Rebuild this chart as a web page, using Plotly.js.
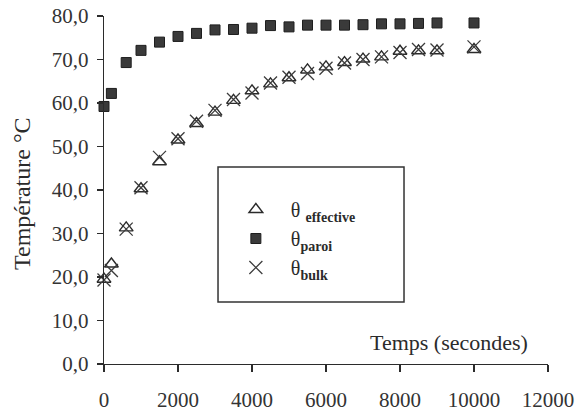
<!DOCTYPE html>
<html>
<head>
<meta charset="utf-8">
<script src="https://cdn.plot.ly/plotly-3.0.1.min.js"></script>
<style>
html,body{margin:0;padding:0;background:#fff;}
#chart{width:579px;height:416px;}
</style>
</head>
<body>
<div id="chart"></div>
<script>
// Data (time in seconds, temperature in °C)
const time = [0, 200, 600, 1000, 1500, 2000, 2500, 3000, 3500, 4000, 4500, 5000, 5500, 6000, 6500, 7000, 7500, 8000, 8500, 9000, 10000];
const thetaEffective = [19.5, 23.0, 31.3, 40.3, 46.5, 51.5, 55.3, 57.9, 60.6, 62.8, 64.4, 65.8, 67.6, 68.3, 69.3, 70.1, 70.6, 71.9, 72.0, 72.0, 72.3];
const thetaParoi = [59.2, 62.2, 69.3, 72.1, 74.0, 75.3, 76.0, 76.8, 76.9, 77.2, 77.8, 77.5, 77.9, 77.9, 77.9, 78.0, 78.2, 78.2, 78.3, 78.4, 78.4];
const thetaBulk = [19.3, 21.5, 31.0, 40.5, 47.5, 51.8, 55.8, 58.3, 60.8, 62.3, 64.6, 65.9, 66.8, 68.0, 69.2, 70.0, 70.6, 71.6, 72.3, 72.2, 72.9];
const seriesNames = ["&nbsp;&nbsp;&nbsp;θ <sub><b>effective</b></sub>", "&nbsp;&nbsp;&nbsp;θ<sub><b>paroi</b></sub>", "&nbsp;&nbsp;&nbsp;θ<sub><b>bulk</b></sub>"];
const xTicks = [0, 2000, 4000, 6000, 8000, 10000, 12000];
const yTicks = [0, 10, 20, 30, 40, 50, 60, 70, 80];

const serif = "Liberation Serif, Times New Roman, serif";
const ink = "#2b2b2b";

const traces = [
  {
    x: time, y: thetaEffective, name: seriesNames[0], type: "scatter", mode: "markers",
    legendgroup: "a", cliponaxis: false,
    marker: {symbol: "triangle-up-open", size: 12, color: ink, line: {width: 1.4, color: ink}}
  },
  {
    x: time, y: thetaParoi, name: seriesNames[1], type: "scatter", mode: "markers",
    legendgroup: "b", cliponaxis: false,
    marker: {symbol: "square", size: 10, color: "#3a3a3a", line: {width: 1, color: "#1e1e1e"}}
  },
  {
    x: time, y: thetaBulk, name: seriesNames[2], type: "scatter", mode: "markers",
    legendgroup: "c", cliponaxis: false,
    marker: {symbol: "x-thin-open", size: 13, color: "#3c3c3c", line: {width: 1.3, color: "#3c3c3c"}}
  }
];

const layout = {
  width: 579, height: 416,
  margin: {l: 104, r: 31, t: 16, b: 52},
  paper_bgcolor: "#ffffff", plot_bgcolor: "#ffffff",
  separators: ", ",
  font: {family: serif, size: 20, color: ink},
  showlegend: true,
  legend: {
    x: 0.297, y: 0.50, xanchor: "left", yanchor: "top",
    bgcolor: "rgba(0,0,0,0)", borderwidth: 0,
    traceorder: "grouped", tracegroupgap: 0,
    font: {family: serif, size: 20, color: ink},
    itemwidth: 30
  },
  xaxis: {
    range: [0, 12000], tickvals: xTicks, tickformat: "d",
    showgrid: false, zeroline: false, showline: true, linecolor: ink, linewidth: 1.3,
    ticks: "outside", ticklen: 7, tickwidth: 1.3, tickcolor: ink,
    ticklabelstandoff: 9,
    tickfont: {family: serif, size: 21, color: "#333"}
  },
  yaxis: {
    range: [0, 80], tickvals: yTicks, tickformat: ".1f",
    showgrid: false, zeroline: false, showline: true, linecolor: ink, linewidth: 1.3,
    ticks: "outside", ticklen: 6, tickwidth: 1.3, tickcolor: ink,
    ticklabelstandoff: 4,
    tickfont: {family: serif, size: 21, color: "#333"}
  },
  shapes: [
    {type: "rect", xref: "paper", yref: "paper", x0: 0.2568, x1: 0.6757, y0: 0.178, y1: 0.566,
     line: {color: "#333", width: 1.5}, fillcolor: "rgba(0,0,0,0)"}
  ],
  annotations: [
    {text: "Temps (secondes)", xref: "paper", yref: "paper", x: 0.777, y: 0.063,
     xanchor: "center", yanchor: "middle", showarrow: false,
     font: {family: serif, size: 22, color: ink}},
    {text: "Température °C", xref: "paper", yref: "paper", x: -0.185, y: 0.491,
     xanchor: "center", yanchor: "middle", textangle: -90, showarrow: false,
     font: {family: serif, size: 24, color: ink}}
  ]
};

Plotly.newPlot("chart", traces, layout, {displayModeBar: false, staticPlot: true});
</script>
</body>
</html>
